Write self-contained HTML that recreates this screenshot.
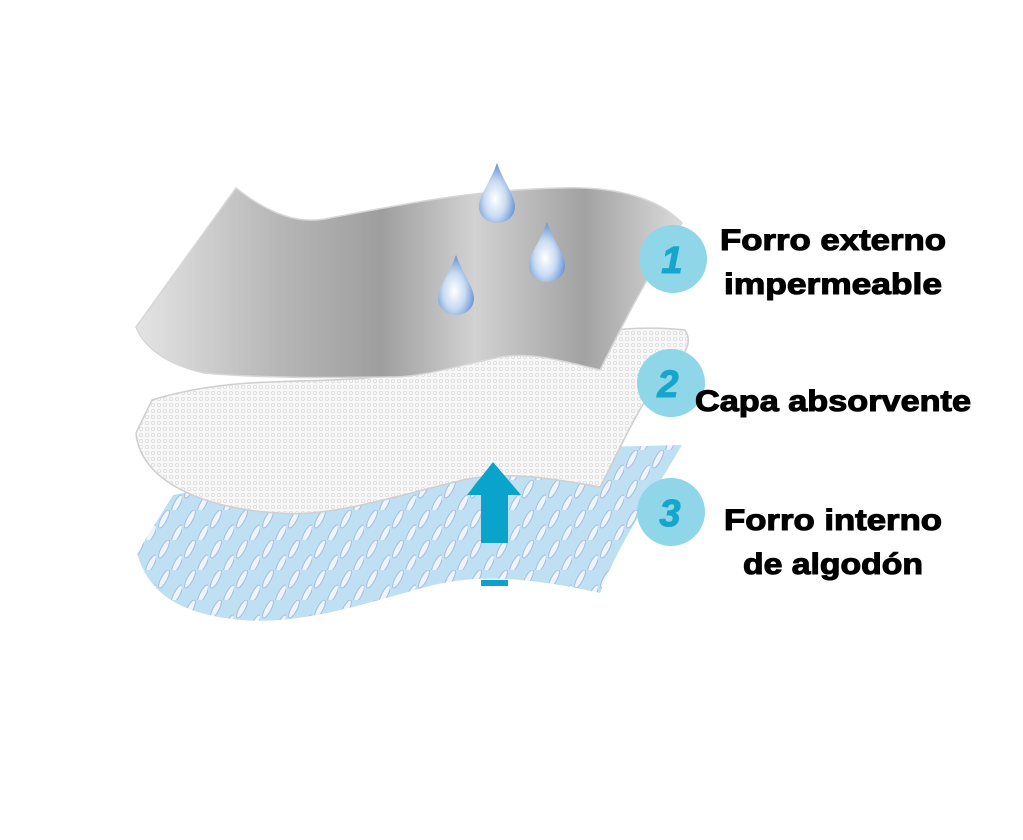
<!DOCTYPE html>
<html><head><meta charset="utf-8"><style>
html,body{margin:0;padding:0;background:#fff;}
svg{display:block}
text{font-family:"Liberation Sans",sans-serif;font-weight:bold;fill:#000;stroke:#000;stroke-width:1.1px}
</style></head><body>
<svg width="1023" height="840" viewBox="0 0 1023 840" xmlns="http://www.w3.org/2000/svg">
<defs>
<linearGradient id="g" x1="0" y1="0" x2="1" y2="0">
<stop offset="0" stop-color="#e4e4e4"/><stop offset="0.25" stop-color="#b8b8b8"/>
<stop offset="0.45" stop-color="#9e9e9e"/><stop offset="0.62" stop-color="#d2d2d2"/>
<stop offset="0.82" stop-color="#a2a2a2"/><stop offset="1" stop-color="#dadada"/>
</linearGradient>
<pattern id="dots" width="6" height="6" patternUnits="userSpaceOnUse">
<rect width="6" height="6" fill="#f7f7f7"/><circle cx="3" cy="3" r="1.6" fill="none" stroke="#dcdcdc" stroke-width="0.8"/>
</pattern>
<pattern id="ell" width="26" height="30" patternUnits="userSpaceOnUse">
<rect width="26" height="30" fill="#bfe0f2"/>
<ellipse cx="8" cy="9" rx="3" ry="10" transform="rotate(28 8 9)" fill="#eef4fb" stroke="#a8bde0" stroke-width="1"/>
<ellipse cx="21" cy="24" rx="3" ry="10" transform="rotate(28 21 24)" fill="#eef4fb" stroke="#a8bde0" stroke-width="1"/>
</pattern>
<radialGradient id="drop" cx="0.45" cy="0.6" r="0.6">
<stop offset="0" stop-color="#ffffff"/><stop offset="0.5" stop-color="#c9dbf3"/><stop offset="1" stop-color="#5f8fd0"/>
</radialGradient>
</defs>
<!-- blue layer -->
<path d="M173,495 C300,470 470,450 560,448 L682,445 C650,500 620,540 600,593 C520,575 470,575 426,587 C360,605 300,625 241,620 C190,615 150,600 137,553 Z" fill="url(#ell)"/>
<rect x="470" y="584" width="80" height="30" fill="#fff"/>
<!-- white layer -->
<path d="M152,400 C250,370 330,390 420,370 C520,350 600,320 685,330 C695,345 680,360 668,370 C640,400 620,450 600,487 C560,480 510,470 463,480 C400,495 330,518 278,513 C200,508 140,480 136,433 Z" fill="url(#dots)" stroke="#cfcfcf" stroke-width="1.5"/>
<!-- gray layer -->
<path d="M236,188 C270,215 300,225 330,218 C400,205 470,190 560,188 C620,186 660,200 682,223 C650,270 620,330 600,370 C560,360 530,352 500,357 C460,365 420,378 389,377 C320,378 260,378 204,373 C170,365 145,350 136,327 Z" fill="url(#g)" stroke="#d6d6d6" stroke-width="1.5"/>
<!-- drops -->
<path d="M497,163 C505,185 515,195 515,207 A18,16 0 0 1 479,207 C479,195 489,185 497,163 Z" fill="url(#drop)"/>
<path d="M547,222 C555,244 565,254 565,266 A18,16 0 0 1 529,266 C529,254 539,244 547,222 Z" fill="url(#drop)"/>
<path d="M456,255 C464,277 474,287 474,299 A18,16 0 0 1 438,299 C438,287 448,277 456,255 Z" fill="url(#drop)"/>
<!-- arrow -->
<polygon points="493,462 521,495 508,495 508,543 481,543 481,495 467,495" fill="#0aa3cb"/>
<rect x="481" y="580" width="27" height="6" fill="#0aa3cb"/>
<!-- circles -->
<circle cx="673" cy="259" r="34" fill="#8fd6e8"/>
<circle cx="671" cy="383" r="34" fill="#8fd6e8"/>
<circle cx="671" cy="512" r="34" fill="#8fd6e8"/>
<g style="font-style:italic">
<text x="672" y="273" font-size="38" text-anchor="middle" style="fill:#17a6cb;stroke:#17a6cb">1</text>
<text x="668" y="397" font-size="38" text-anchor="middle" style="fill:#17a6cb;stroke:#17a6cb">2</text>
<text x="670" y="526" font-size="38" text-anchor="middle" style="fill:#17a6cb;stroke:#17a6cb">3</text>
</g>
<text x="720" y="250" font-size="30" textLength="226" lengthAdjust="spacingAndGlyphs">Forro externo</text>
<text x="724" y="294" font-size="30" textLength="218" lengthAdjust="spacingAndGlyphs">impermeable</text>
<text x="695" y="411" font-size="30" textLength="276" lengthAdjust="spacingAndGlyphs">Capa absorvente</text>
<text x="724" y="530" font-size="30" textLength="218" lengthAdjust="spacingAndGlyphs">Forro interno</text>
<text x="743" y="574" font-size="30" textLength="180" lengthAdjust="spacingAndGlyphs">de algodón</text>
</svg>
</body></html>
